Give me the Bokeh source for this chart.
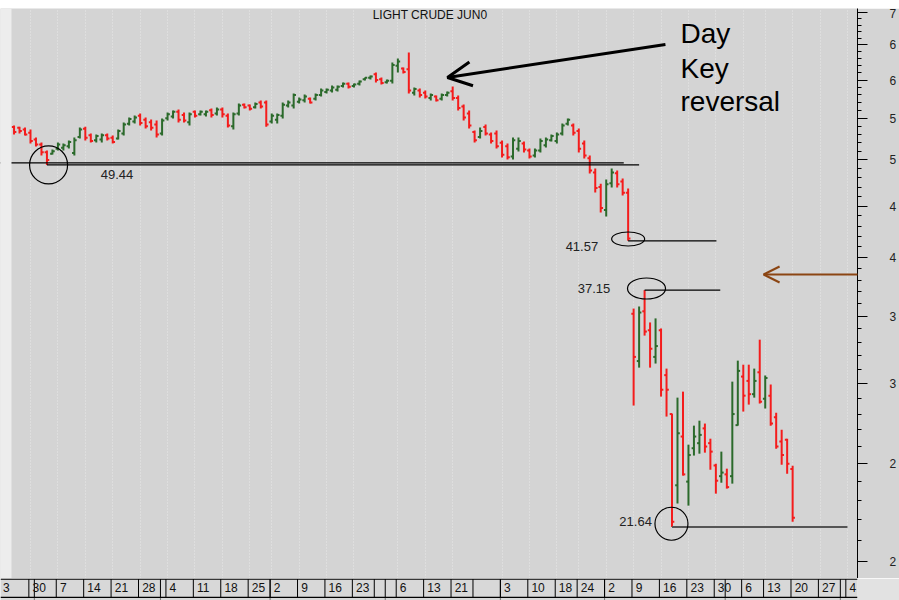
from bokeh.plotting import figure
from bokeh.models import (Range1d, FixedTicker, Grid, Label, Arrow, OpenHead,
                          ColumnDataSource, Span, BoxAnnotation, Spacer)
from bokeh.layouts import column
from bokeh.embed import file_html
from bokeh.resources import INLINE
from bokeh.core.properties import value

# ---------------- data: Light Crude Jun0 daily OHLC ----------------
# trading-day index, 0 = Mon 30 Sep 2019
day = list(range(-3, 140))
opens = [53.9, 53.8, 53.6, 53.2, 52.4, 51.8, 50.9, 50.7, 51.3, 51.4, 51.6, 50.8, 52.7,
         53.7, 52.9, 52.3, 52.4, 52.9, 52.6, 52.5, 53.1, 54.3, 54.6, 55.3, 54.8, 54.5,
         54.2, 53.1, 55.0, 55.2, 55.8, 55.4, 54.5, 55.8, 55.5, 55.5, 56.0, 55.6, 56.1,
         55.3, 54.0, 55.6, 56.7, 56.6, 56.4, 57.0, 57.0, 54.6, 54.8, 55.3, 56.6, 56.6,
         57.1, 57.3, 57.5, 57.5, 58.0, 58.4, 58.6, 58.7, 59.2, 59.5, 59.2, 59.5, 60.1,
         60.3, 60.8, 60.1, 59.7, 59.9, 62.0, 61.6, 61.5, 58.3, 58.6, 58.3, 57.6, 57.8,
         57.5, 58.0, 58.5, 57.6, 56.5, 55.6, 53.3, 52.7, 53.9, 53.0, 53.1, 52.0, 51.6,
         50.4, 51.3, 51.9, 51.1, 50.5, 51.1, 51.7, 52.3, 52.2, 53.1, 54.3, 54.1, 53.4,
         51.9, 50.2, 48.6, 47.0, 44.6, 47.4, 48.5, 47.6, 46.4, 35.2, 31.6, 35.4, 33.9,
         31.9, 33.9, 30.6, 28.0, 23.8, 26.6, 24.0, 25.9, 26.2, 27.1, 26.2, 24.9, 24.3,
         24.4, 24.3, 27.3, 30.5, 30.2, 29.3, 30.8, 29.0, 29.2, 27.8, 26.3, 26.4, 24.7]
highs = [54.08, 53.95, 53.83, 53.59, 52.62, 52.02, 51.09, 51.20, 52.02, 51.91, 52.26, 52.62,
         53.83, 53.95, 53.10, 52.98, 53.10, 53.10, 52.86, 53.59, 54.45, 55.08, 55.33, 55.59,
         55.08, 54.83, 54.70, 54.95, 55.72, 55.97, 56.10, 55.72, 55.72, 55.97, 55.97, 55.97,
         56.22, 56.35, 56.35, 55.59, 55.72, 56.87, 56.87, 56.74, 57.00, 57.26, 57.26, 55.59,
         55.59, 57.00, 57.26, 58.18, 57.65, 58.05, 57.65, 58.18, 58.85, 58.85, 59.25, 59.25,
         59.66, 59.66, 59.52, 59.93, 60.34, 60.62, 61.04, 60.34, 60.07, 62.45, 63.03, 61.74,
         63.89, 58.98, 58.85, 58.58, 58.18, 57.91, 58.18, 58.45, 59.12, 57.91, 56.74, 55.97,
         53.47, 53.83, 54.20, 53.22, 53.47, 52.26, 51.91, 52.62, 52.62, 52.14, 51.32, 51.32,
         52.50, 52.62, 52.98, 53.22, 54.33, 54.95, 54.33, 53.71, 52.26, 50.51, 49.03, 47.37,
         47.81, 49.03, 48.80, 47.92, 46.84, 35.62, 35.79, 37.15, 34.51, 34.83, 34.04, 31.06,
         28.03, 29.07, 29.47, 26.11, 27.27, 27.58, 27.40, 26.47, 25.00, 25.70, 24.72, 30.15,
         31.63, 31.34, 31.34, 31.06, 33.18, 30.57, 29.95, 28.09, 27.02, 26.47, 24.89]
lows = [52.98, 53.10, 52.86, 51.91, 51.55, 50.51, 49.44, 50.62, 51.09, 51.09, 51.32, 50.51,
        52.50, 52.26, 52.02, 52.02, 52.02, 52.26, 51.91, 52.38, 52.86, 54.08, 54.33, 54.08,
        53.71, 53.47, 52.62, 52.86, 54.70, 54.95, 54.45, 54.45, 54.08, 55.08, 55.33, 55.20,
        55.08, 55.33, 55.08, 53.83, 53.59, 55.33, 56.22, 55.97, 56.22, 56.22, 53.95, 54.33,
        54.33, 54.95, 56.35, 56.22, 56.87, 57.00, 56.87, 57.26, 57.78, 58.18, 58.31, 58.45,
        58.98, 58.85, 58.98, 59.25, 59.93, 60.07, 59.66, 59.39, 59.52, 59.52, 61.04, 60.90,
        58.18, 57.91, 57.65, 57.52, 57.26, 57.13, 57.26, 57.78, 57.26, 55.97, 54.70, 53.71,
        52.02, 52.50, 52.86, 51.91, 51.32, 50.28, 50.05, 50.05, 50.97, 50.86, 50.16, 50.28,
        50.86, 51.44, 52.14, 51.91, 52.86, 54.08, 52.86, 50.86, 50.16, 48.47, 46.42, 44.35,
        43.94, 46.95, 46.95, 46.10, 41.57, 28.55, 31.13, 33.49, 31.13, 31.42, 29.14, 27.84,
        21.64, 22.83, 24.33, 22.72, 25.47, 25.58, 25.64, 24.66, 23.35, 23.94, 23.62, 23.89,
        27.27, 28.16, 28.61, 29.07, 28.68, 28.35, 27.27, 25.87, 24.94, 24.44, 21.90]
closes = [53.3, 53.4, 53.0, 52.2, 51.8, 50.9, 50.0, 51.0, 51.8, 51.7, 52.1, 52.3, 53.6,
          52.6, 52.2, 52.8, 52.9, 52.5, 52.1, 53.4, 54.2, 54.9, 55.1, 54.4, 54.0, 53.8,
          53.0, 54.7, 55.5, 55.8, 54.8, 54.7, 55.5, 55.3, 55.8, 55.8, 55.4, 56.1, 55.5,
          54.1, 55.5, 56.6, 56.4, 56.2, 56.8, 56.5, 54.2, 55.3, 55.4, 56.7, 57.0, 58.0,
          57.4, 57.8, 57.0, 58.0, 58.6, 58.7, 59.0, 59.1, 59.5, 59.1, 59.4, 59.8, 60.3,
          60.5, 60.0, 59.6, 59.9, 62.1, 62.6, 61.1, 58.6, 58.8, 58.0, 57.8, 58.0, 57.3,
          58.0, 58.3, 57.6, 56.3, 55.1, 54.1, 52.3, 53.4, 53.1, 52.2, 51.6, 50.6, 50.3,
          52.3, 52.2, 51.2, 50.4, 51.1, 52.2, 52.4, 52.8, 53.0, 54.1, 54.8, 53.2, 51.3,
          50.5, 48.8, 46.9, 44.8, 47.3, 48.6, 47.3, 46.4, 41.8, 31.9, 35.3, 33.8, 32.5,
          32.7, 29.6, 29.6, 21.9, 26.8, 24.4, 25.5, 26.6, 26.7, 26.0, 25.7, 24.05, 24.5,
          23.7, 28.0, 30.9, 29.2, 29.3, 30.2, 28.8, 30.4, 27.4, 26.0, 25.5, 25.0, 22.1]

# weekly date labels (trading-day index of each week's first session)
week_days = [-5.4, 0, 5, 10, 15, 20, 25, 30, 35, 40, 44, 49, 54, 59, 63, 67, 72, 77, 81,
             86, 91, 96, 100, 105, 110, 115, 120, 125, 130, 134, 139, 144, 149]
week_labels = ["3", "30", "7", "14", "21", "28", "4", "11", "18", "25", "2", "9", "16",
               "23", "", "6", "13", "21", "", "3", "10", "18", "24", "2", "9", "16", "23",
               "30", "6", "13", "20", "27", "4"]
month_start_days = [1, 24, 44, 65, 86, 105, 127, 148]

price_ticks = [20, 25, 30, 35, 40, 45, 50, 55, 60, 65, 70]
price_tick_text = ["2", "2", "3", "3", "4", "4", "5", "5", "6", "6", "7"]
price_minor = [v for v in range(20, 71) if v % 5 != 0]

# annotated levels
support_upper = 49.67
level_vals = [49.44, 41.57, 37.15, 21.64]
level_start = [3, 109, 112, 117]
level_end = [111, 125.1, 125.8, 149]
level_text = ["49.44", "41.57", "37.15", "21.64"]

RED = "#f41c1c"
GREEN = "#2b6a2b"
BG = "#d4d4d4"
FONT = "Liberation Sans"
X_LEFT, X_RIGHT = -5.47, 150.83

# ---------------- main price panel ----------------
p = figure(width=899, height=570, x_range=Range1d(X_LEFT, X_RIGHT),
           y_range=Range1d(19.24, 70.64), y_axis_type="log",
           x_axis_location=None, y_axis_location="right",
           toolbar_location=None, output_backend="svg",
           min_border_left=0, min_border_right=42, min_border_top=0, min_border_bottom=0,
           background_fill_color=BG, border_fill_color=BG, outline_line_color=None)
p.grid.visible = False

p.add_layout(Grid(dimension=0,
                  ticker=FixedTicker(ticks=[d for d, t in zip(week_days[1:], week_labels[1:]) if t]),
                  grid_line_color="#e8e8e8", grid_line_dash="1 2", grid_line_width=1))

ax = p.yaxis[0]
ax.ticker = FixedTicker(ticks=price_ticks, minor_ticks=price_minor)
ax.major_label_overrides = {t: s for t, s in zip(price_ticks, price_tick_text)}
ax.major_tick_out = 10
ax.major_tick_in = 0
ax.minor_tick_out = 4
ax.minor_tick_in = 0
ax.major_label_standoff = 22
ax.axis_line_color = "black"
ax.major_tick_line_color = "black"
ax.minor_tick_line_color = "black"
ax.major_label_text_font = FONT
ax.major_label_text_font_size = "12px"
ax.major_label_text_color = "#222222"

colors = [GREEN if c > o else RED for o, c in zip(opens, closes)]
src = ColumnDataSource(dict(day=day, o=opens, h=highs, l=lows, c=closes, color=colors,
                            dl=[d - 0.42 for d in day], dr=[d + 0.42 for d in day]))
p.segment(x0="day", y0="l", x1="day", y1="h", line_color="color", line_width=2, source=src)
p.segment(x0="dl", y0="o", x1="day", y1="o", line_color="color", line_width=2, source=src)
p.segment(x0="day", y0="c", x1="dr", y1="c", line_color="color", line_width=2, source=src)

# level lines
p.segment(x0=[X_LEFT], y0=[support_upper], x1=[108.2], y1=[support_upper],
          line_color="black", line_width=1.3)
p.segment(x0=level_start[:3], y0=level_vals[:3], x1=level_end[:3], y1=level_vals[:3],
          line_color="black", line_width=1.3)
p.segment(x0=level_start[3:], y0=level_vals[3:], x1=level_end[3:], y1=level_vals[3:],
          line_color="#555555", line_width=2)

# circles / ellipses around the extremes
p.ellipse(x=[3.3, 109.0, 112.35, 116.9], y=[49.44, 41.75, 37.29, 21.8],
          width=[38, 33, 38, 33], height=[38, 14, 21, 33],
          width_units="screen", height_units="screen",
          fill_color=None, line_color="black", line_width=1.2)

for txt, x, y in zip(level_text, [12.8, 97.6, 99.8, 107.4], [48.42, 41.08, 37.29, 21.9]):
    p.add_layout(Label(x=x, y=y, text=txt, text_font=FONT, text_font_size="13px",
                       text_color="#222222", text_baseline="middle", text_align="left"))

p.add_layout(Label(x=62.4, y=69.6, text="LIGHT CRUDE JUN0", text_font=FONT,
                   text_font_size="12px", text_color="#111111",
                   text_baseline="middle", text_align="left"))

for txt, y in zip(["Day", "Key", "reversal"], [66.72, 61.6, 57.1]):
    p.add_layout(Label(x=118.55, y=y, text=txt, text_font=FONT, text_font_size="28px",
                       text_color="black", text_baseline="middle", text_align="left"))

p.add_layout(Arrow(end=OpenHead(size=24, line_width=3, line_color="black"),
                   x_start=115.8, y_start=65.07, x_end=76.05, y_end=60.35,
                   line_width=3, line_color="black"))
p.add_layout(Arrow(end=OpenHead(size=16, line_width=2, line_color="#8b4513"),
                   x_start=158.5, y_start=38.5, x_end=133.7, y_end=38.5,
                   line_width=2, line_color="#8b4513"))

# light left margin of the chart window
p.add_layout(BoxAnnotation(left=X_LEFT, right=-3.465, fill_color="#ededed", fill_alpha=1,
                           line_color=None))

# ---------------- date strip ----------------
s = figure(width=899, height=22, x_range=Range1d(X_LEFT, X_RIGHT), y_range=Range1d(0, 22),
           x_axis_location=None, y_axis_location=None, toolbar_location=None,
           output_backend="svg", min_border_left=0, min_border_right=42,
           min_border_top=0, min_border_bottom=0,
           background_fill_color="#d8d8d8", border_fill_color="#e2e2e2",
           outline_line_color=None)
s.grid.visible = False
s.add_layout(Span(location=21.4, dimension="width", line_color="black", line_width=1.3))
s.add_layout(Span(location=3.2, dimension="width", line_color="black", line_width=1.3))
sep_days = week_days[1:] + month_start_days
sep = [d - 0.3 for d in sep_days]
s.segment(x0=sep, y0=[3.2] * len(sep), x1=sep, y1=[21.4] * len(sep),
          line_color="black", line_width=1)
s.segment(x0=[d - 0.3 for d in month_start_days], y0=[0] * len(month_start_days),
          x1=[d - 0.3 for d in month_start_days], y1=[3.2] * len(month_start_days),
          line_color="#777777", line_width=1)
s.text(x=week_days, y=[13.0] * len(week_days), text=week_labels, x_offset=2,
       text_font=value(FONT), text_font_size=value("12px"), text_color="#111111",
       text_baseline="middle", text_align="left")

layout = column(Spacer(height=8), p, s, spacing=0)
open("out.html", "w").write(file_html(layout, INLINE))
